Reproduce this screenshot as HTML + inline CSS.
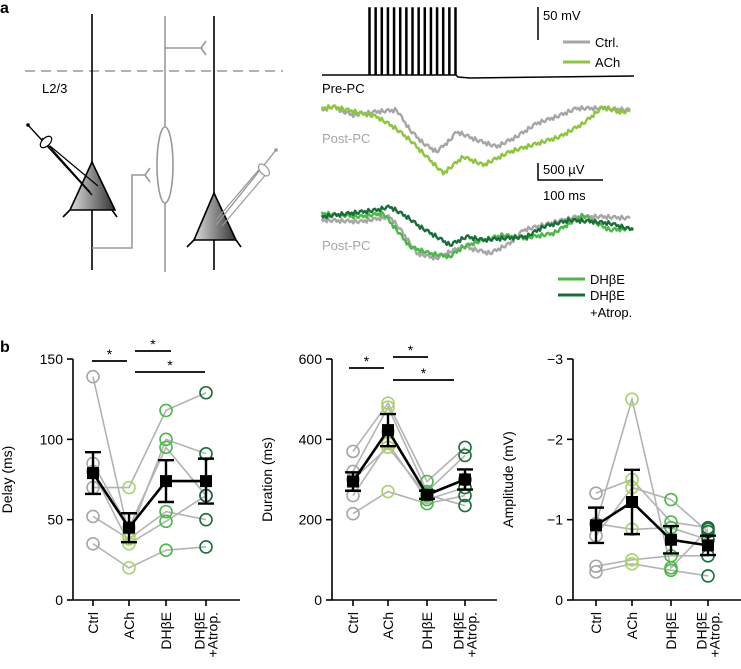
<!DOCTYPE html>
<html><head><meta charset="utf-8"><style>
html,body{margin:0;padding:0;background:#fff;}
svg{display:block;font-family:"Liberation Sans",Arial,sans-serif;}
</style></head><body>
<svg id="fig" width="741" height="669" viewBox="0 0 741 669" xmlns="http://www.w3.org/2000/svg">
<defs>
<linearGradient id="tri" x1="0" y1="0" x2="1" y2="0"><stop offset="0" stop-color="#ddd"/><stop offset="1" stop-color="#333"/></linearGradient>
</defs>
<text x="0" y="13" font-size="16" font-weight="bold">a</text>
<text x="0" y="352" font-size="16" font-weight="bold">b</text>
<g fill="none">
<line x1="25" y1="71" x2="283" y2="71" stroke="#999" stroke-width="1.6" stroke-dasharray="10,6"/>
<text x="42" y="93" font-size="13" fill="#000" stroke="none">L2/3</text>
<line x1="92" y1="14" x2="92" y2="270" stroke="#000" stroke-width="1.6"/>
<line x1="214" y1="16" x2="214" y2="270" stroke="#000" stroke-width="1.6"/>
<line x1="165" y1="16" x2="165" y2="272" stroke="#999" stroke-width="1.6"/>
<polyline points="165,48 201,48" stroke="#999" stroke-width="1.6"/>
<path d="M206,41 L201,48 L206,55" stroke="#999" stroke-width="1.6"/>
<ellipse cx="165" cy="165" rx="8" ry="38" fill="#fff" stroke="#999" stroke-width="1.6"/>
<polyline points="92,248 132,248 132,175 145,175" stroke="#999" stroke-width="1.6"/>
<path d="M150,168 L145,175 L150,182" stroke="#999" stroke-width="1.6"/>
<polygon points="92,162 70,210 115,210" fill="url(#tri)" stroke="#000" stroke-width="1.6"/>
<line x1="63" y1="217" x2="70" y2="210" stroke="#000" stroke-width="1.6"/><line x1="117" y1="217" x2="112" y2="210" stroke="#000" stroke-width="1.6"/>
<polygon points="214,193 194,240 236,240" fill="url(#tri)" stroke="#000" stroke-width="1.6"/>
<line x1="187" y1="247" x2="194" y2="240" stroke="#000" stroke-width="1.6"/><line x1="241" y1="247" x2="236" y2="240" stroke="#000" stroke-width="1.6"/>
<line x1="28" y1="125" x2="92" y2="195" stroke="#000" stroke-width="1.4"/>
<path d="M42,138 L90,192 M50,146 L98,186" stroke="#000" stroke-width="1.2"/>
<ellipse cx="46" cy="142" rx="4" ry="7" transform="rotate(45 46 142)" fill="#fff" stroke="#000" stroke-width="1.2"/>
<circle cx="28" cy="125" r="1.8" fill="#000"/>
<line x1="276" y1="150" x2="216" y2="225" stroke="#999" stroke-width="1.4"/>
<path d="M262,166 L216,220 M268,172 L222,226" stroke="#999" stroke-width="1.2"/>
<ellipse cx="264" cy="170" rx="4" ry="7" transform="rotate(-40 264 170)" fill="#fff" stroke="#999" stroke-width="1.2"/>
<circle cx="276" cy="150" r="1.8" fill="#999"/>
</g>
<g id="traces"></g>
<g id="charts"></g>
</svg>
<script>
const NS="http://www.w3.org/2000/svg";
function mk(p,tag,at){const e=document.createElementNS(NS,tag);for(const k in at)e.setAttribute(k,at[k]);p.appendChild(e);return e;}
const tr=document.getElementById('traces');
const preSpikeCount=15;
const postCtrl=[[35,330],[70,320],[100,335],[130,345],[200,335],[260,330],[300,390],[340,430],[380,455],[420,420],[440,395],[500,420],[560,440],[620,410],[680,370],[740,350],[800,325],[880,325],[960,330]];
const postACh=[[35,325],[70,320],[200,350],[250,380],[300,420],[350,470],[400,520],[460,470],[520,495],[600,455],[750,410],[820,370],[880,320],[920,335],[960,335]];
const lowCtrl=[[35,660],[150,665],[240,650],[280,700],[320,760],[380,775],[420,755],[460,740],[540,760],[600,730],[640,690],[720,670],[800,650],[880,650],[960,655]];
const lowD=[[35,640],[150,650],[220,640],[260,690],[300,740],[360,760],[420,770],[460,740],[520,720],[580,705],[640,715],[730,700],[820,645],[860,670],[900,690],[970,685]];
const lowDA=[[35,650],[120,640],[200,630],[240,620],[290,650],[330,680],[380,710],[420,735],[470,710],[520,720],[580,715],[650,710],[700,680],[780,660],[850,665],[900,670],[970,690]];
function pts(a){return a.map(p=>(310+p[0]/3).toFixed(1)+","+(p[1]/3).toFixed(1)).join(" ");}
function jitter(a){const o=[];const pat=[-3,2,-1,4,-4,1,3,-2];let c=0;for(let i=0;i<a.length-1;i++){const[x0,y0]=a[i],[x1,y1]=a[i+1];const n=Math.max(2,Math.round((x1-x0)/5));for(let j=0;j<n;j++){const t=j/n;o.push([x0+(x1-x0)*t,y0+(y1-y0)*t+pat[(c++)%pat.length]*1.5]);}}o.push(a[a.length-1]);return o;}
function trace(a,col,name){const e=mk(tr,'polyline',{points:pts(jitter(a)),fill:'none',stroke:col,'stroke-width':2.4,'stroke-linejoin':'round'});
}
let d="M322,75 L368,75";for(let i=0;i<preSpikeCount;i++){const x=369+i*(86/(preSpikeCount-1));d+=` L${x},75 L${x},8 L${x+1},8 L${x+1},75`;}
d+=" L458,77 L470,78 L634,76";
const pre=mk(tr,'path',{d:d,fill:'none',stroke:'#000','stroke-width':1.5});

trace(postCtrl,'#a6a6a6','post-pc-ctrl-trace');trace(postACh,'#8cc63f','post-pc-ach-trace');
trace(lowCtrl,'#a6a6a6','post-pc-ctrl-trace-2');trace(lowD,'#4cb848','post-pc-dhbe-trace');trace(lowDA,'#1a6e3a','post-pc-atrop-trace');
function txt(p,x,y,s,at,name){const e=mk(p,'text',Object.assign({x:x,y:y,'font-size':13},at||{}));e.textContent=s;
return e;}
mk(tr,'line',{x1:538,y1:7,x2:538,y2:40,stroke:'#000','stroke-width':1.5});
txt(tr,543,20,'50 mV',{},'scale-50mv');
mk(tr,'line',{x1:563,y1:42,x2:590,y2:42,stroke:'#a6a6a6','stroke-width':3});txt(tr,595,47,'Ctrl.',{},'legend-ctrl');
mk(tr,'line',{x1:563,y1:62,x2:590,y2:62,stroke:'#8cc63f','stroke-width':3});txt(tr,595,67,'ACh',{},'legend-ach');
txt(tr,322,93,'Pre-PC',{},'pre-pc-label');
txt(tr,322,143,'Post-PC',{fill:'#a6a6a6'},'post-pc-label');
txt(tr,322,250,'Post-PC',{fill:'#a6a6a6'},'post-pc-label-2');
mk(tr,'polyline',{points:'538,163 538,180 603,180',fill:'none',stroke:'#000','stroke-width':1.5});
txt(tr,543,174,'500 µV',{},'scale-500uv');txt(tr,543,200,'100 ms',{},'scale-100ms');
mk(tr,'line',{x1:558,y1:279,x2:585,y2:279,stroke:'#4cb848','stroke-width':3});txt(tr,590,284,'DHβE',{},'legend-dhbe');
mk(tr,'line',{x1:558,y1:295,x2:585,y2:295,stroke:'#1a6e3a','stroke-width':3});txt(tr,590,300,'DHβE',{},'legend-dhbe-atrop');txt(tr,590,317,'+Atrop.',{},'legend-atrop');

const categories=['Ctrl','ACh','DHβE','DHβE +Atrop.'];
const catColors=['#a6a6a6','#a9d36b','#4cb848','#1a6e3a'];
const delayCells=[[139,40,100,91],[85,45,95,65],[70,70,118,129],[52,38,55,50],[35,20,31,33],[80,35,49,65]];
const delayMean=[79,45,74,74];
const delayErr=[13,9,13,14];
const delayTicks=[0,50,100,150];
const durCells=[[370,490,295,380],[320,480,270,360],[300,420,260,300],[260,390,250,280],[215,270,240,260],[300,380,262,235]];
const durMean=[295,423,262,300];
const durErr=[23,40,10,25];
const durTicks=[0,200,400,600];
const ampCells=[[-1.33,-1.5,-0.97,-0.9],[-0.95,-2.5,-0.4,-0.88],[-0.8,-1.4,-1.25,-0.85],[-0.42,-0.5,-0.55,-0.55],[-0.35,-0.45,-0.37,-0.3],[-0.95,-0.88,-0.9,-0.75]];
const ampMean=[-0.93,-1.22,-0.75,-0.68];
const ampErr=[0.22,0.4,0.17,0.12];
const ampTicks=[0,-1,-2,-3];
const ampTickLabels=['0','−1','−2','−3'];

const cfg=[
 {name:'delay',ax:73,xs:[93,129,166,206],xend:240,ymax:150,cells:delayCells,mean:delayMean,err:delayErr,ticks:delayTicks,labels:delayTicks.map(String),title:'Delay (ms)',tx:12,
  sig:[[92,127,361],[135,171,351],[135,205,372]]},
 {name:'duration',ax:332,xs:[353,388,427,465],xend:497,ymax:600,cells:durCells,mean:durMean,err:durErr,ticks:durTicks,labels:durTicks.map(String),title:'Duration (ms)',tx:272,
  sig:[[349,384,368],[393,428,357],[393,454,380]]},
 {name:'amplitude',ax:573,xs:[596,632,671,708],xend:741,ymax:-3,cells:ampCells,mean:ampMean,err:ampErr,ticks:ampTicks,labels:ampTickLabels,title:'Amplitude (mV)',tx:513,sig:[]}
];
const Y0=600,Ytop=359;
const ch=document.getElementById('charts');
cfg.forEach(c=>{
 const g=mk(ch,'g',{});
 
 const y=v=>Y0-(v/c.ymax)*(Y0-Ytop);
 mk(g,'line',{x1:c.ax,y1:Ytop,x2:c.ax,y2:Y0,stroke:'#000','stroke-width':1.6});
 mk(g,'line',{x1:c.ax,y1:Y0,x2:c.xend,y2:Y0,stroke:'#000','stroke-width':1.6});
 c.ticks.forEach((t,i)=>{mk(g,'line',{x1:c.ax-6,y1:y(t),x2:c.ax,y2:y(t),stroke:'#000','stroke-width':1.6});
  txt(g,c.ax-10,y(t)+5,c.labels[i],{'text-anchor':'end','font-size':14},c.name+'-tick-'+i);});
 txt(g,c.tx,(Y0+Ytop)/2,c.title,{'text-anchor':'middle','font-size':14,transform:`rotate(-90 ${c.tx} ${(Y0+Ytop)/2})`},c.name+'-y-axis-title');
 c.xs.forEach((x,i)=>{mk(g,'line',{x1:x,y1:Y0,x2:x,y2:Y0+6,stroke:'#000','stroke-width':1.6});
  const parts=categories[i].split(' ');
  parts.forEach((p,k)=>{const xx=x+5+(k-(parts.length-1))*13+ (parts.length>1?6.5:0);
   txt(g,xx,612,p,{'text-anchor':'end','font-size':14,transform:`rotate(-90 ${xx} 612)`},c.name+'-x-label-'+i+(k?'-b':''));});});
 c.cells.forEach((cell,ci)=>{
  const l=mk(g,'polyline',{points:cell.map((v,i)=>c.xs[i]+','+y(v)).join(' '),fill:'none',stroke:'#b3b3b3','stroke-width':1.6});
  });
 c.cells.forEach((cell,ci)=>cell.forEach((v,i)=>{
  const p=mk(g,'circle',{cx:c.xs[i],cy:y(v),r:6,fill:'none',stroke:catColors[i],'stroke-width':1.6});
  }));
 const ml=mk(g,'polyline',{points:c.mean.map((v,i)=>c.xs[i]+','+y(v)).join(' '),fill:'none',stroke:'#000','stroke-width':2.6});
 
 c.mean.forEach((v,i)=>{const x=c.xs[i],a=y(v+c.err[i]),b=y(v-c.err[i]);
  const e=mk(g,'path',{d:`M${x},${a}V${b}M${x-8},${a}H${x+8}M${x-8},${b}H${x+8}`,stroke:'#000','stroke-width':2.4,fill:'none'});
  
  const s=mk(g,'rect',{x:x-6,y:y(v)-6,width:12,height:12,fill:'#000'});
  });
 c.sig.forEach((s,i)=>{mk(g,'line',{x1:s[0],y1:s[2],x2:s[1],y2:s[2],stroke:'#000','stroke-width':1.8});
  txt(g,(s[0]+s[1])/2,s[2]-2,'*',{'text-anchor':'middle','font-size':14},c.name+'-sig-'+i);});
});
</script>
</body></html>
